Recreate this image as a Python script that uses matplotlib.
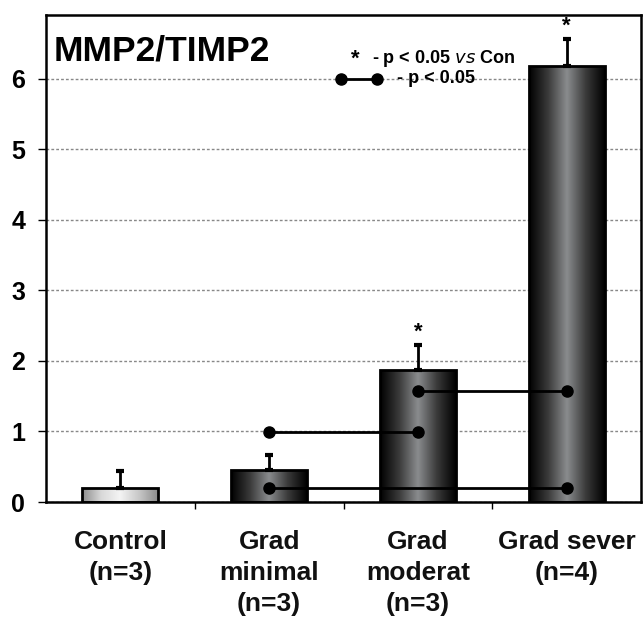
import numpy as np
import matplotlib
matplotlib.use("Agg")
import matplotlib.pyplot as plt
from matplotlib.colors import LinearSegmentedColormap

plt.rcParams['font.family'] = ['Liberation Sans', 'DejaVu Sans']

# data
categories = ["Control\n(n=3)", "Grad\nminimal\n(n=3)", "Grad\nmoderat\n(n=3)", "Grad sever\n(n=4)"]
means = [0.2, 0.45, 1.87, 6.18]
errors = [0.24, 0.21, 0.35, 0.38]
significant = [False, False, True, True]
# pairwise comparisons: (from group, to group, bracket height)
pairs = [(1, 2, 0.99), (1, 3, 0.2), (2, 3, 1.57)]
yticks = [0, 1, 2, 3, 4, 5, 6]

fig = plt.figure(figsize=(6.43, 6.19), dpi=100)
ax = fig.add_axes([46/643, 117/619, 595/643, 487/619])

x = np.arange(len(categories))
w = 0.51
bars = ax.bar(x, means, width=w, color='none', edgecolor='black', linewidth=2, zorder=3)

light = LinearSegmentedColormap.from_list("light", ["#8c8c8c", "#d8d8d8", "#f4f4f4", "#c8c8c8", "#8c8c8c"])
dark = LinearSegmentedColormap.from_list("dark", ["#000000", "#3a3a3a", "#8a8c8e", "#3a3a3a", "#000000"])
grad = np.linspace(0, 1, 256).reshape(1, -1)
for i, b in enumerate(bars):
    cmap = light if i == 0 else dark
    im = ax.imshow(grad, cmap=cmap, aspect='auto', zorder=2,
                   extent=[b.get_x(), b.get_x() + w, 0, b.get_height()])
    im.set_clip_path(b)

ax.errorbar(x, means, yerr=[np.zeros(len(errors)), errors], fmt='none',
            ecolor='black', elinewidth=2, capsize=3, capthick=3, zorder=4)

for i in range(len(means)):
    if significant[i]:
        ax.text(x[i], means[i] + errors[i] + 0.03, "*", ha='center', va='bottom',
                fontsize=16, fontweight='bold')

for a, b, h in pairs:
    ax.plot([x[a], x[b]], [h, h], color='black', lw=2, marker='o', ms=8, zorder=5)

# legend
ax.text(1.577, 6.27, "*", ha='center', va='center', fontsize=16, fontweight='bold')
ax.text(1.69, 6.29, "- p < 0.05 $\\it{vs}$ Con", ha='left', va='center', fontsize=13, fontweight='bold')
ax.plot([1.481, 1.723], [6.0, 6.0], color='black', lw=2, marker='o', ms=8, zorder=5)
ax.text(1.86, 6.0, "- p < 0.05", ha='left', va='center', fontsize=13, fontweight='bold')

ax.text(0.012, 0.96, "MMP2/TIMP2", transform=ax.transAxes, ha='left', va='top',
        fontsize=25.5, fontweight='bold')

ax.set_xlim(-0.5, 3.5)
ax.set_ylim(0, 6.9)
ax.set_yticks(yticks)
ax.set_yticklabels([str(t) for t in yticks], fontsize=18, fontweight='bold')
ax.yaxis.grid(True, linestyle=(0, (2, 1.5)), color='#888888', lw=1, zorder=0)
ax.set_axisbelow(True)
ax.tick_params(axis='y', length=6, width=1, pad=9)

ax.set_xticks(x)
ax.set_xticklabels(categories, fontsize=19, fontweight='bold', linespacing=1.38, color='#111111')
ax.tick_params(axis='x', which='major', length=0, pad=20)
ax.set_xticks([0.5, 1.5, 2.5], minor=True)
ax.tick_params(axis='x', which='minor', length=5, width=1)

for s in ax.spines.values():
    s.set_linewidth(1.8)

fig.savefig("out.png", dpi=100)
